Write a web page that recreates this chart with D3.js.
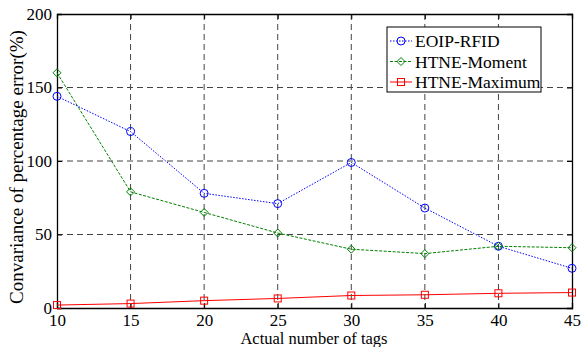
<!DOCTYPE html>
<html>
<head>
  <meta charset="UTF-8">
  <title>Convariance chart</title>
  <script src="https://cdn.jsdelivr.net/npm/d3@7"></script>
  <style>
    body { margin: 0; background: #fff; }
    text { font-family: "Liberation Serif", "Times New Roman", serif; fill: #000; }
  </style>
</head>
<body>
<div id="chart"></div>
<script>
  // data
  var tags = [10, 15, 20, 25, 30, 35, 40, 45];
  var eoip = [144, 120, 78, 71, 99, 68, 42, 27];
  var moment = [160, 79, 65, 51, 40, 37, 42, 41];
  var maximum = [2, 3, 5, 6.5, 8.5, 9, 10, 10.5];
  var yTicks = [0, 50, 100, 150, 200];
  var seriesNames = ['EOIP-RFID', 'HTNE-Moment', 'HTNE-Maximum'];

  var W = 581, H = 347;
  var margin = { top: 14, right: 9, bottom: 39, left: 57 };
  var width = W - margin.left - margin.right;
  var height = H - margin.top - margin.bottom;

  var svg = d3.select('#chart').append('svg')
    .attr('width', W).attr('height', H);
  var g = svg.append('g')
    .attr('transform', `translate(${margin.left}, ${margin.top})`);

  var x = d3.scaleLinear().domain([10, 45]).range([0, width]);
  var y = d3.scaleLinear().domain([0, 200]).range([height, 0]);

  // grid
  g.selectAll('.gx').data(tags.slice(1, -1)).enter().append('line')
    .attr('x1', d => x(d)).attr('x2', d => x(d))
    .attr('y1', 0).attr('y2', height)
    .style('stroke', '#444').style('stroke-dasharray', '6,4');
  g.selectAll('.gy').data(yTicks.slice(1, -1)).enter().append('line')
    .attr('y1', d => y(d)).attr('y2', d => y(d))
    .attr('x1', 0).attr('x2', width)
    .style('stroke', '#444').style('stroke-dasharray', '6,4');

  // axes, ticks inward on all sides
  var fs = '17px';
  var xa = g.append('g').attr('transform', `translate(0, ${height})`)
    .call(d3.axisBottom(x).tickValues(tags).tickSize(-5).tickPadding(6));
  var xt = g.append('g')
    .call(d3.axisTop(x).tickValues(tags).tickSize(-5).tickFormat(''));
  var ya = g.append('g')
    .call(d3.axisLeft(y).tickValues(yTicks).tickSize(-5).tickPadding(5));
  var yr = g.append('g').attr('transform', `translate(${width}, 0)`)
    .call(d3.axisRight(y).tickValues(yTicks).tickSize(-5).tickFormat(''));
  [xa, xt, ya, yr].forEach(a => {
    a.select('.domain').style('stroke', '#000').style('stroke-width', 1.3);
    a.selectAll('.tick line').style('stroke', '#000');
    a.selectAll('text').style('font-size', fs).style('font-family', '"Liberation Serif", serif');
  });

  // lines
  var line = d3.line().x(d => x(d[0])).y(d => y(d[1]));
  var series = [
    { name: seriesNames[0], vals: eoip, color: '#0000ff', dash: '1.5,1.5', marker: 'circle' },
    { name: seriesNames[1], vals: moment, color: '#008000', dash: '3,1.5', marker: 'diamond' },
    { name: seriesNames[2], vals: maximum, color: '#ff0000', dash: null, marker: 'square' }
  ];

  function drawMarker(sel, type, cx, cy, color) {
    if (type === 'circle') {
      sel.append('circle').attr('cx', cx).attr('cy', cy).attr('r', 4)
        .style('fill', 'none').style('stroke', color);
    } else if (type === 'diamond') {
      sel.append('path')
        .attr('d', `M${cx},${cy - 4}L${cx + 4},${cy}L${cx},${cy + 4}L${cx - 4},${cy}Z`)
        .style('fill', 'none').style('stroke', color);
    } else {
      sel.append('rect').attr('x', cx - 3.5).attr('y', cy - 3.5)
        .attr('width', 7).attr('height', 7)
        .style('fill', 'none').style('stroke', color);
    }
  }

  series.forEach(s => {
    var pts = tags.map((t, i) => [t, s.vals[i]]);
    g.append('path').attr('d', line(pts))
      .style('fill', 'none').style('stroke', s.color).style('stroke-width', 1)
      .style('stroke-dasharray', s.dash);
    pts.forEach(p => drawMarker(g, s.marker, x(p[0]), y(p[1]), s.color));
  });

  // legend
  var lg = svg.append('g').attr('transform', 'translate(387, 27)');
  lg.append('rect').attr('width', 154).attr('height', 65)
    .style('fill', '#fff').style('stroke', '#000');
  series.forEach((s, i) => {
    var ly = 14 + i * 20.5;
    lg.append('line').attr('x1', 3).attr('x2', 25).attr('y1', ly).attr('y2', ly)
      .style('stroke', s.color).style('stroke-dasharray', s.dash);
    drawMarker(lg, s.marker, 14, ly, s.color);
    lg.append('text').attr('x', 28).attr('y', ly).attr('dy', '0.35em')
      .style('font-size', '17.5px').text(s.name);
  });

  // axis titles
  svg.append('text').attr('x', 314).attr('y', 344)
    .attr('text-anchor', 'middle').style('font-size', '16.5px')
    .text('Actual number of tags');
  svg.append('text')
    .attr('transform', 'translate(23, 167) rotate(-90)')
    .attr('text-anchor', 'middle').style('font-size', '19px')
    .text('Convariance of percentage error(%)');
</script>
</body>
</html>
